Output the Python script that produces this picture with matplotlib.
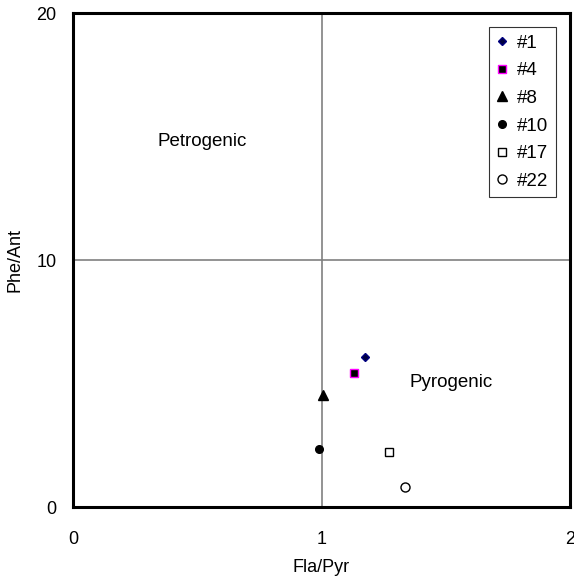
import matplotlib
matplotlib.use('Agg')
import matplotlib.pyplot as plt

plt.rcParams['font.family'] = ['Liberation Sans', 'DejaVu Sans']

# sample labels and ratios
samples = ['#1', '#4', '#8', '#10', '#17', '#22']
fla_pyr = [1.175, 1.131, 1.006, 0.99, 1.27, 1.336]
phe_ant = [6.07, 5.43, 4.53, 2.35, 2.23, 0.81]

# marker styles: (marker, face, edge, size)
styles = [('D', '#000040', '#000080', 4.5),
          ('s', 'black', '#ff00ff', 5.5),
          ('^', 'black', 'black', 6.5),
          ('o', 'black', 'black', 5.5),
          ('s', 'white', 'black', 6),
          ('o', 'white', 'black', 6.5)]

fig = plt.figure(figsize=(5.74, 5.81), dpi=100)
ax = fig.add_axes([73/574, 1 - 507/581, 497/574, 494/581])

ax.axvline(1, color='#808080', lw=1.2, zorder=1)
ax.axhline(10, color='#808080', lw=1.2, zorder=1)

for s, x, y, st in zip(samples, fla_pyr, phe_ant, styles):
    m, fc, ec, ms = st
    ax.plot(x, y, linestyle='none', marker=m, markerfacecolor=fc,
            markeredgecolor=ec, markersize=ms, markeredgewidth=1, label=s, zorder=3)

ax.text(0.52, 14.8, 'Petrogenic', fontsize=13.5, ha='center', va='center')
ax.text(1.52, 5.06, 'Pyrogenic', fontsize=13.5, ha='center', va='center')

ax.set_xlim(0, 2)
ax.set_ylim(0, 20)
ax.set_xticks([0, 1, 2])
ax.set_yticks([0, 10, 20])
ax.tick_params(length=0, labelsize=13)
ax.tick_params(axis='y', pad=12)
ax.tick_params(axis='x', pad=17)
ax.set_xlabel('Fla/Pyr', fontsize=13)
ax.set_ylabel('Phe/Ant', fontsize=13)
ax.xaxis.set_label_coords(0.5, -61/494)
ax.yaxis.set_label_coords(-58/497, 0.5)
ax.xaxis.label.set_va('center')
ax.yaxis.label.set_va('center')
for sp in ax.spines.values():
    sp.set_linewidth(2.2)

leg = ax.legend(loc='upper right', bbox_to_anchor=(483/497, 1 - 14/494),
                borderaxespad=0, fontsize=13.5, frameon=True, fancybox=False,
                handlelength=0.6, handletextpad=0.5, labelspacing=0.56,
                borderpad=0.4)
leg.get_frame().set_edgecolor('black')
leg.get_frame().set_linewidth(0.8)

fig.savefig('out.png', dpi=100)
